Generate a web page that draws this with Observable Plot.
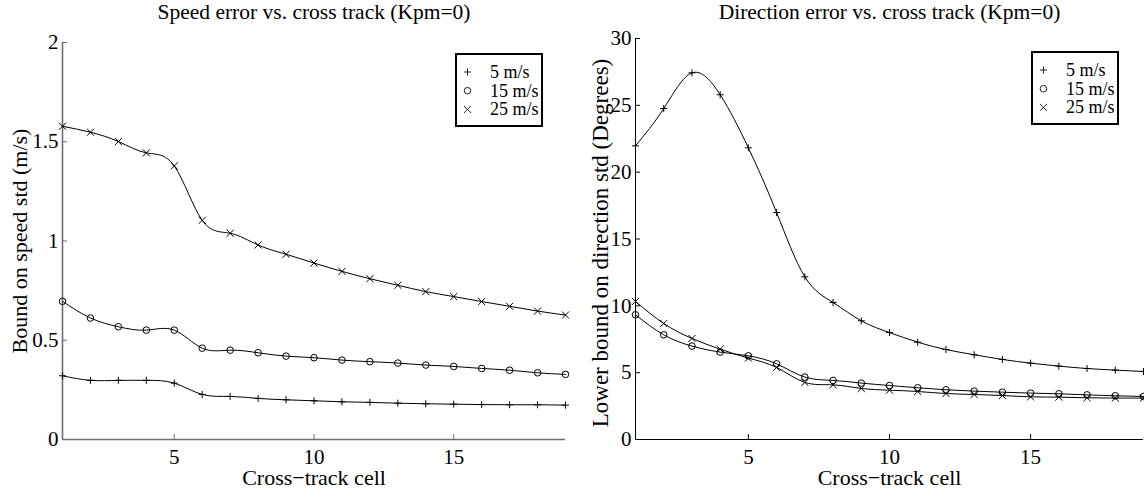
<!DOCTYPE html>
<html>
<head>
<meta charset="utf-8">
<script src="https://cdn.jsdelivr.net/npm/d3@7"></script>
<script src="https://cdn.jsdelivr.net/npm/@observablehq/plot@0.6"></script>
<style>
html, body { margin: 0; padding: 0; background: #fff; }
#wrap { position: relative; width: 1144px; height: 489px; overflow: hidden; background: #fff; }
#wrap svg { position: absolute; top: 0; }
</style>
</head>
<body>
<div id="wrap"></div>
<script>
// ---- data ----
const cells = [1, 2, 3, 4, 5, 6, 7, 8, 9, 10, 11, 12, 13, 14, 15, 16, 17, 18, 19];
const seriesNames = ["5 m/s", "15 m/s", "25 m/s"];

// Speed error (m/s)
const speed5  = [0.321, 0.298, 0.298, 0.298, 0.284, 0.227, 0.217, 0.207, 0.200, 0.195, 0.190, 0.187, 0.183, 0.180, 0.178, 0.176, 0.175, 0.175, 0.173];
const speed15 = [0.696, 0.612, 0.568, 0.551, 0.551, 0.460, 0.450, 0.437, 0.420, 0.412, 0.400, 0.392, 0.385, 0.375, 0.368, 0.358, 0.349, 0.336, 0.328];
const speed25 = [1.578, 1.548, 1.501, 1.444, 1.378, 1.104, 1.039, 0.980, 0.933, 0.889, 0.847, 0.810, 0.777, 0.745, 0.720, 0.695, 0.671, 0.647, 0.627];

// Direction error (degrees)
const dir5  = [21.97, 24.76, 27.43, 25.79, 21.82, 16.98, 12.17, 10.25, 8.88, 8.00, 7.28, 6.73, 6.34, 5.99, 5.71, 5.49, 5.31, 5.19, 5.09];
const dir15 = [9.33, 7.83, 6.99, 6.54, 6.26, 5.66, 4.67, 4.42, 4.22, 4.04, 3.87, 3.72, 3.62, 3.54, 3.47, 3.42, 3.34, 3.27, 3.22];
const dir25 = [10.33, 8.68, 7.56, 6.76, 6.09, 5.39, 4.27, 4.09, 3.82, 3.69, 3.59, 3.44, 3.37, 3.29, 3.19, 3.17, 3.12, 3.10, 3.10];

const speedTicksY = [0, 0.5, 1, 1.5, 2];
const dirTicksY = [0, 5, 10, 15, 20, 25, 30];
const ticksX = [5, 10, 15];

// ---- styling ----
const FONT = "'Liberation Serif', 'Times New Roman', serif";
const symbolNames = ["plus", "circle", "times"];
const symbolR = [2.4, 3.3, 3.3];
const d3Symbols = [d3.symbolPlus, d3.symbolCircle, d3.symbolTimes];
const d3Sizes = [18, 34, 34];

function rows(values, name) {
  return cells.map((c, i) => ({cell: c, value: values[i], series: name}));
}

function panel({series, yDomain, yTicks, title, ylabel, width, marginLeft, marginRight, marginTop, axisColor, axisWidth, ylabelDx, ylabelDy, ylabelSize}) {
  const marks = [];
  // axis lines
  marks.push(Plot.ruleX([cells[0]], {y1: yDomain[0], y2: yDomain[1], stroke: axisColor, strokeWidth: axisWidth}));
  marks.push(Plot.ruleY([yDomain[0]], {x1: cells[0], x2: cells[cells.length - 1], stroke: axisColor, strokeWidth: axisWidth}));
  marks.push(Plot.axisY({ticks: yTicks, tickSize: -5, tickPadding: 9, stroke: axisColor, fill: "black", fontSize: 21, tickFormat: d => String(d), label: null}));
  marks.push(Plot.axisX({ticks: ticksX, tickSize: -5, tickPadding: 15, stroke: axisColor, fill: "black", fontSize: 21, tickFormat: d => String(d), label: null}));
  series.forEach((vals, i) => {
    const data = rows(vals, seriesNames[i]);
    marks.push(Plot.line(data, {x: "cell", y: "value", curve: "natural", stroke: "black", strokeWidth: 1}));
    marks.push(Plot.dot(data, {x: "cell", y: "value", symbol: () => symbolNames[i], r: symbolR[i], stroke: "black", fill: "none", strokeWidth: 1}));
  });
  marks.push(Plot.text([title], {text: d => d, frameAnchor: "top", textAnchor: "middle", lineAnchor: "middle", dy: -marginTop + 12, fontSize: 21.5, fill: "black"}));
  marks.push(Plot.text([ylabel], {text: d => d, frameAnchor: "left", textAnchor: "middle", lineAnchor: "middle", rotate: -90, dx: ylabelDx, dy: ylabelDy, fontSize: ylabelSize, fill: "black"}));
  marks.push(Plot.text(["Cross\u2212track cell"], {text: d => d, frameAnchor: "bottom", textAnchor: "middle", lineAnchor: "middle", dy: 38, fontSize: 22, fill: "black"}));
  return Plot.plot({
    width, height: 489,
    marginLeft, marginRight, marginTop, marginBottom: 50,
    style: {fontFamily: FONT, fontSize: "21px", color: "black", background: "transparent", overflow: "visible"},
    x: {domain: [cells[0], cells[cells.length - 1]]},
    y: {domain: yDomain},
    symbol: {domain: symbolNames, range: symbolNames},
    marks
  });
}

function legend(left, top, w, h) {
  const svg = d3.create("svg")
    .attr("width", w).attr("height", h)
    .style("left", left + "px").style("top", top + "px");
  svg.append("rect").attr("x", 1).attr("y", 1).attr("width", w - 2).attr("height", h - 2)
    .attr("fill", "white").attr("stroke", "black").attr("stroke-width", 2);
  seriesNames.forEach((name, i) => {
    const cy = 19 + i * 18.7;
    svg.append("path")
      .attr("transform", `translate(12.5,${cy})`)
      .attr("d", d3.symbol(d3Symbols[i], d3Sizes[i])())
      .attr("fill", "none").attr("stroke", "#222").attr("stroke-width", 1);
    svg.append("text")
      .attr("x", 35).attr("y", cy + 6)
      .style("font-family", FONT).style("font-size", "18px")
      .text(name);
  });
  return svg.node();
}

const wrap = document.getElementById("wrap");

const left = panel({
  series: [speed5, speed15, speed25],
  yDomain: [0, 2], yTicks: speedTicksY,
  title: "Speed error vs. cross track (Kpm=0)",
  ylabel: "Bound on speed std (m/s)",
  width: 572, marginLeft: 62, marginRight: 7, marginTop: 42,
  axisColor: "#6e6e6e", axisWidth: 1.6, ylabelDx: -43, ylabelDy: 0, ylabelSize: 22
});
left.style.left = "0px";
wrap.appendChild(left);

const right = panel({
  series: [dir5, dir15, dir25],
  yDomain: [0, 30], yTicks: dirTicksY,
  title: "Direction error vs. cross track (Kpm=0)",
  ylabel: "Lower bound on direction std (Degrees)",
  width: 572, marginLeft: 63, marginRight: 1, marginTop: 38,
  axisColor: "black", axisWidth: 1, ylabelDx: -35, ylabelDy: 4, ylabelSize: 23
});
right.style.left = "572px";
wrap.appendChild(right);

wrap.appendChild(legend(455, 53, 88, 74));
wrap.appendChild(legend(1031, 51, 88, 74));
</script>
</body>
</html>
